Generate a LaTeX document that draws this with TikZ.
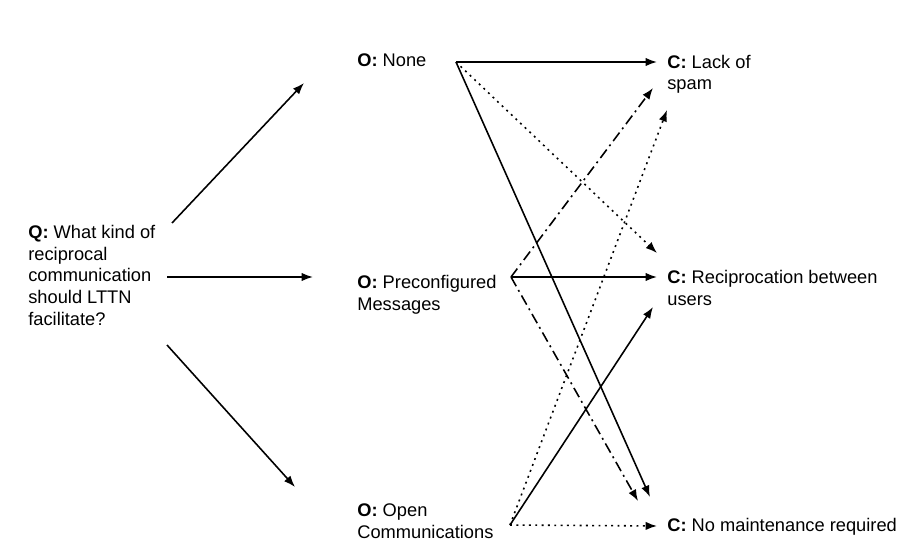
\documentclass[tikz,border=0pt]{standalone}
\usepackage{fontspec}
\setmainfont{Liberation Sans}
\usetikzlibrary{arrows.meta}
\begin{document}
\begin{tikzpicture}[x=0.02cm,y=-0.02cm,line join=round,>={Latex[length=6.5pt,width=4.8pt]},
	font=\fontsize{10.4}{12.3}\selectfont,
	lbl/.style={anchor=base west,align=left,inner sep=0pt},
	link/.style={->,line width=0.9pt},
	dots/.style={link,dash pattern=on 1.1pt off 2.5pt},
	dashdots/.style={link,dash pattern=on 6pt off 2.5pt on 1.1pt off 2.5pt}]
	\useasboundingbox (0,0) rectangle (910,554);
	% question (base = last line)
	\node[lbl] (q) at (28,325) {\textbf{Q:} What kind of\\reciprocal\\communication\\should LTTN\\facilitate?};
	% options
	\node[lbl] (none) at (357,67) {\textbf{O:} None};
	\node[lbl] (pre) at (357,310) {\textbf{O:} Preconfigured\\Messages};
	\node[lbl] (open) at (357,538) {\textbf{O:} Open\\Communications};
	% consequences
	\node[lbl] (spam) at (667,90) {\textbf{C:} Lack of\\spam};
	\node[lbl] (recip) at (667,305) {\textbf{C:} Reciprocation between\\users};
	\node[lbl] (maint) at (667,531) {\textbf{C:} No maintenance required};
	\coordinate (none-out) at ([shift={(99,-5)}]none.base west);
	\coordinate (pre-out) at ([shift={(154,-33)}]pre.base west);
	\coordinate (open-out) at ([shift={(153,-13)}]open.base west);
	% question to options
	\draw[link] ([shift={(144,-102)}]q.base west) -- ([shift={(-53,16)}]none.base west);
	\draw[link] ([shift={(139,-48)}]q.base west) -- ([shift={(-44,-33)}]pre.base west);
	\draw[link] ([shift={(139,20)}]q.base west) -- ([shift={(-62,-51)}]open.base west);
	% options to consequences
	\draw[link] (none-out) -- ([shift={(-10,-28)}]spam.base west);
	\draw[link] (none-out) -- ([shift={(-17,-34)}]maint.base west);
	\draw[dots] (none-out) -- ([shift={(-10,-52)}]recip.base west);
	\draw[link] (pre-out) -- ([shift={(-10,-28)}]recip.base west);
	\draw[dashdots] (pre-out) -- ([shift={(-14,-2)}]spam.base west);
	\draw[dashdots] (pre-out) -- ([shift={(-29,-30)}]maint.base west);
	\draw[link] (open-out) -- ([shift={(-14,2)}]recip.base west);
	\draw[dots] (open-out) -- ([shift={(0,20)}]spam.base west);
	\draw[dots] (open-out) -- ([shift={(-10,-5)}]maint.base west);
\end{tikzpicture}
\end{document}
